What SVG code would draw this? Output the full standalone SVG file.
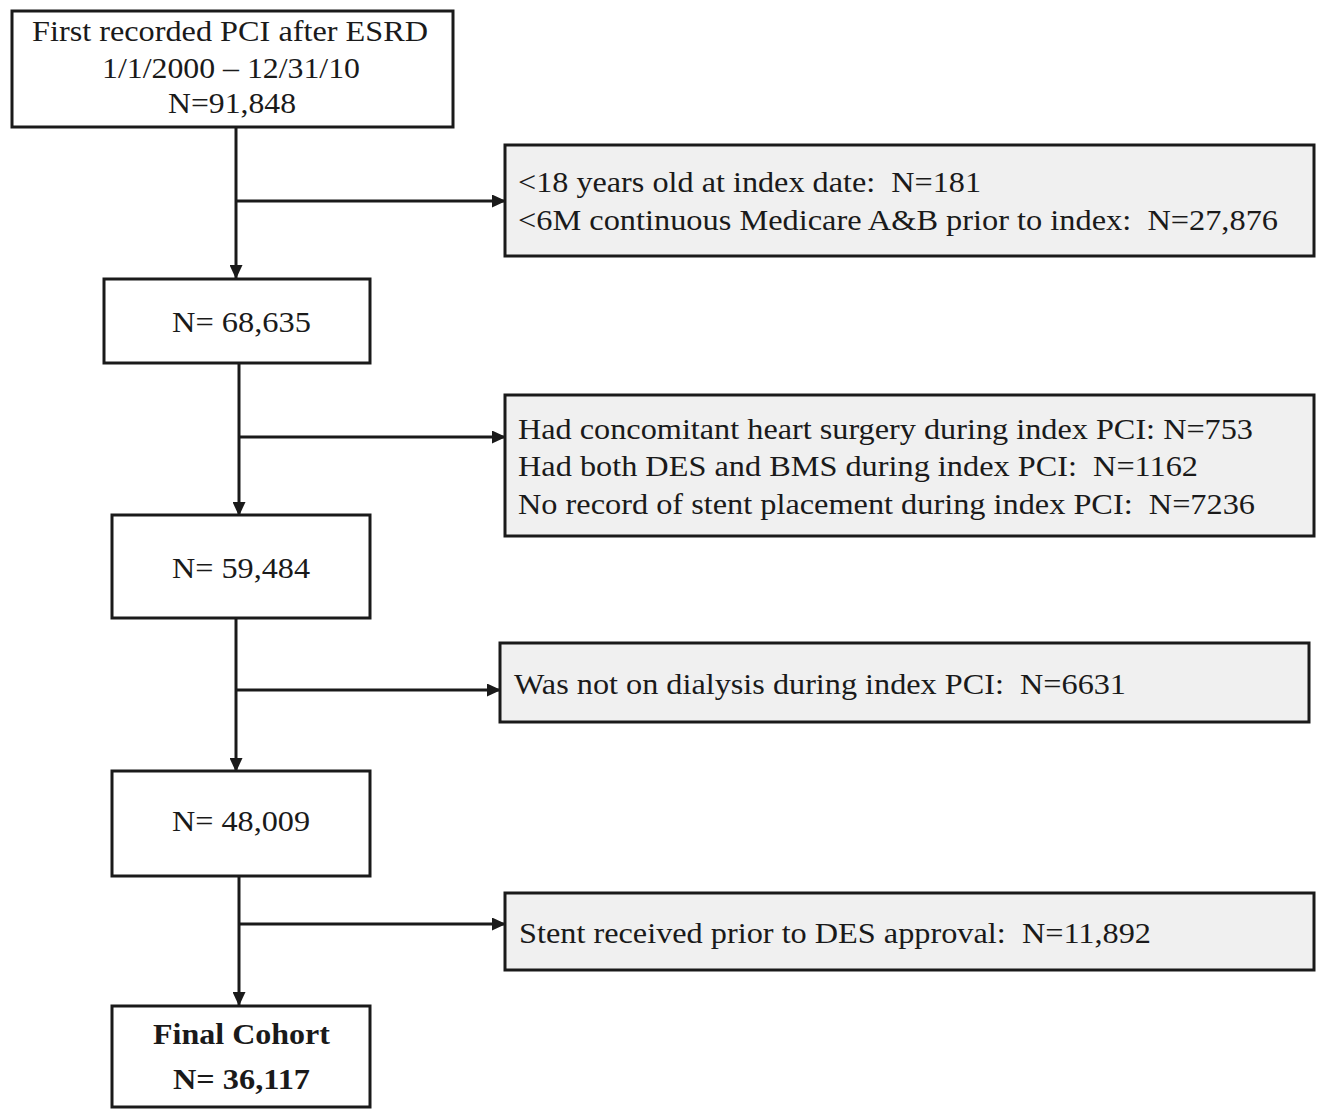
<svg xmlns="http://www.w3.org/2000/svg" width="1320" height="1109" viewBox="0 0 1320 1109">
<style>
.box{fill:#ffffff;stroke:#1a1a1a;stroke-width:3}
.ex{fill:#f0f0f0;stroke:#1a1a1a;stroke-width:3}
.t{font-family:'Liberation Serif','DejaVu Serif',serif;font-size:30px;fill:#1a1a1a;white-space:pre}
.b{font-weight:bold}
.ln{stroke:#1a1a1a;stroke-width:3;fill:none}
</style>
<defs>
<marker id="ah" markerWidth="14" markerHeight="13" refX="13" refY="6.5" orient="auto" markerUnits="userSpaceOnUse">
<path d="M0,0 L14,6.5 L0,13 Z" fill="#1a1a1a"/>
</marker>
</defs>
<rect width="1320" height="1109" fill="#ffffff"/>
<g id="connectors">
<line class="ln" x1="236" y1="127" x2="236" y2="278" marker-end="url(#ah)"/>
<line class="ln" x1="236" y1="201" x2="505" y2="201" marker-end="url(#ah)"/>
<line class="ln" x1="239" y1="363" x2="239" y2="515" marker-end="url(#ah)"/>
<line class="ln" x1="239" y1="437" x2="505" y2="437" marker-end="url(#ah)"/>
<line class="ln" x1="236" y1="618" x2="236" y2="771" marker-end="url(#ah)"/>
<line class="ln" x1="236" y1="690" x2="500" y2="690" marker-end="url(#ah)"/>
<line class="ln" x1="239" y1="876" x2="239" y2="1005" marker-end="url(#ah)"/>
<line class="ln" x1="239" y1="924" x2="505" y2="924" marker-end="url(#ah)"/>
</g>
<g id="start">
<rect class="box" x="12" y="11" width="441" height="116"/>
<text class="t" x="32" y="41" textLength="396" lengthAdjust="spacingAndGlyphs">First recorded PCI after ESRD</text>
<text class="t" x="102" y="78" textLength="258" lengthAdjust="spacingAndGlyphs">1/1/2000 – 12/31/10</text>
<text class="t" x="168" y="113" textLength="128" lengthAdjust="spacingAndGlyphs">N=91,848</text>
</g>
<g id="excl1">
<rect class="ex" x="505" y="145" width="809" height="111"/>
<text class="t" x="518" y="192" textLength="463" lengthAdjust="spacingAndGlyphs">&lt;18 years old at index date:  N=181</text>
<text class="t" x="518" y="230" textLength="760" lengthAdjust="spacingAndGlyphs">&lt;6M continuous Medicare A&amp;B prior to index:  N=27,876</text>
</g>
<g id="n2">
<rect class="box" x="104" y="279" width="266" height="84"/>
<text class="t" x="172" y="332" textLength="139" lengthAdjust="spacingAndGlyphs">N= 68,635</text>
</g>
<g id="excl2">
<rect class="ex" x="505" y="395" width="809" height="141"/>
<text class="t" x="518" y="439" textLength="735" lengthAdjust="spacingAndGlyphs">Had concomitant heart surgery during index PCI: N=753</text>
<text class="t" x="518" y="476" textLength="680" lengthAdjust="spacingAndGlyphs">Had both DES and BMS during index PCI:  N=1162</text>
<text class="t" x="518" y="514" textLength="737" lengthAdjust="spacingAndGlyphs">No record of stent placement during index PCI:  N=7236</text>
</g>
<g id="n3">
<rect class="box" x="112" y="515" width="258" height="103"/>
<text class="t" x="172" y="578" textLength="138" lengthAdjust="spacingAndGlyphs">N= 59,484</text>
</g>
<g id="excl3">
<rect class="ex" x="500" y="643" width="809" height="79"/>
<text class="t" x="514" y="694" textLength="612" lengthAdjust="spacingAndGlyphs">Was not on dialysis during index PCI:  N=6631</text>
</g>
<g id="n4">
<rect class="box" x="112" y="771" width="258" height="105"/>
<text class="t" x="172" y="831" textLength="138" lengthAdjust="spacingAndGlyphs">N= 48,009</text>
</g>
<g id="excl4">
<rect class="ex" x="505" y="893" width="809" height="77"/>
<text class="t" x="519" y="943" textLength="632" lengthAdjust="spacingAndGlyphs">Stent received prior to DES approval:  N=11,892</text>
</g>
<g id="final">
<rect class="box" x="112" y="1006" width="258" height="101"/>
<text class="t b" x="153" y="1044" textLength="177" lengthAdjust="spacingAndGlyphs">Final Cohort</text>
<text class="t b" x="173" y="1089" textLength="137" lengthAdjust="spacingAndGlyphs">N= 36,117</text>
</g>
</svg>
